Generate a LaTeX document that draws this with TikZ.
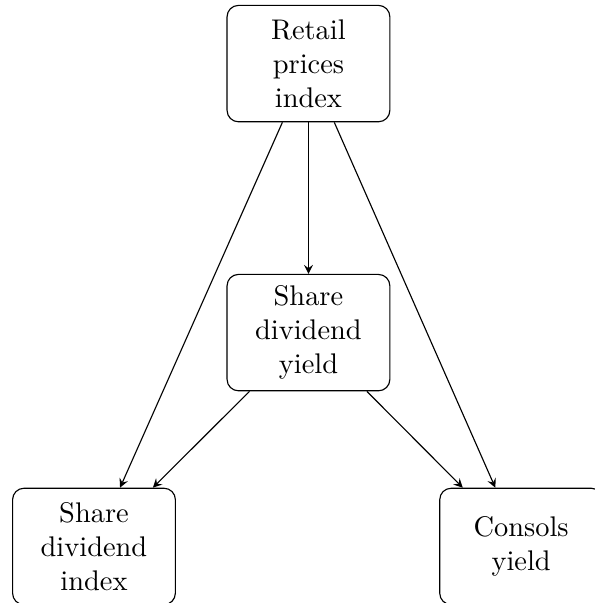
\documentclass[tikz,border=0pt]{standalone}
\usepackage{amsmath}
\usepackage{amssymb}
\usepackage{tikz}

\begin{document}
\begin{tikzpicture}[box/.style={rectangle, draw, rounded corners, align=center, text width=1.78cm, minimum height=1.44cm}]
	\useasboundingbox (0,0) rectangle (7.353,-7.462);
	\node (rpi) at (3.817,-0.787) [box] {Retail\\prices\\index};
		\node (sdy) at (3.817,-4.116) [box] {Share\\dividend\\yield};
			\node (sdi) at (1.163,-6.762) [box] {Share\\dividend\\index};
			\node (cy) at (6.449,-6.762) [box] {Consols\\yield};
	\draw[-stealth] (rpi) to (sdy);
	\draw[-stealth] (rpi) to (sdi);
	\draw[-stealth] (rpi) to (cy);
	\draw[-stealth] (sdy) to (sdi);
	\draw[-stealth] (sdy) to (cy);
\end{tikzpicture}
\end{document}
